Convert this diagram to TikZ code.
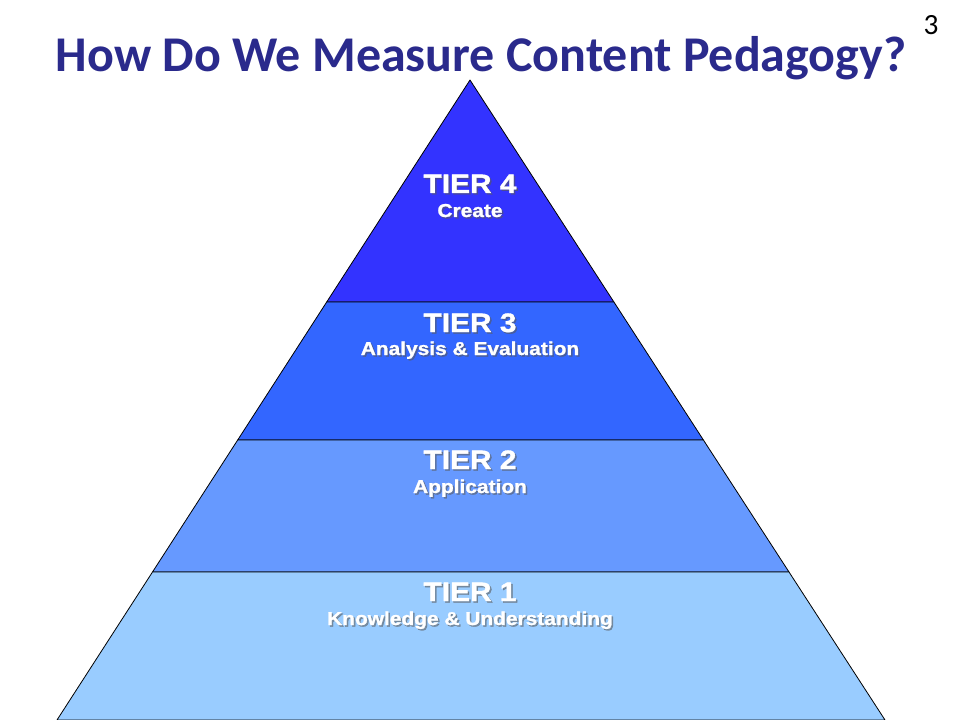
\documentclass[tikz,border=0pt]{standalone}
\usepackage{fontspec}
\usepackage{tikz}
\usetikzlibrary{calc}
\newfontfamily\titlefont{Carlito}
\newfontfamily\tierfont[FakeStretch=1.12,BoldFeatures={FakeBold=1.3}]{Liberation Sans}
\definecolor{titleblue}{RGB}{42,42,140}
\definecolor{tierfour}{RGB}{51,51,255}
\definecolor{tierthree}{RGB}{51,102,255}
\definecolor{tiertwo}{RGB}{102,153,255}
\definecolor{tierone}{RGB}{153,204,255}
\tikzstyle{tier}=[draw=black,line width=0.6pt,line join=round]
\tikzstyle{head}=[anchor=base,inner sep=0pt,text=white,font=\tierfont\bfseries\fontsize{20}{24}\selectfont]
\tikzstyle{sub}=[anchor=base,inner sep=0pt,text=white,font=\tierfont\bfseries\fontsize{14}{17}\selectfont]
\tikzstyle{shade}=[text=black!65,opacity=0.55]

\begin{document}
\begin{tikzpicture}[x=0.75pt,y=-0.75pt]

  \useasboundingbox (0,0) rectangle (960,720);
  \fill[white] (0,0) rectangle (960,720);

  % pyramid corners
  \coordinate (apex) at (470,80);
  \coordinate (L4) at (326.7,302);  \coordinate (R4) at (613.9,302);
  \coordinate (L3) at (237.7,440);  \coordinate (R3) at (703.4,440);
  \coordinate (L2) at (152.5,572);  \coordinate (R2) at (789,572);
  \coordinate (L1) at (57,720);     \coordinate (R1) at (885,720);

  \filldraw[tier, fill=tierfour]  (apex) -- (R4) -- (L4) -- cycle;
  \filldraw[tier, fill=tierthree] (L4) -- (R4) -- (R3) -- (L3) -- cycle;
  \filldraw[tier, fill=tiertwo]   (L3) -- (R3) -- (R2) -- (L2) -- cycle;
  \filldraw[tier, fill=tierone]   (L2) -- (R2) -- (R1) -- (L1) -- cycle;

  % tier labels
  \foreach \hy/\sy/\name/\head/\sub in {193/217/four/TIER 4/Create,
                                         332/355/three/TIER 3/Analysis \& Evaluation,
                                         469/493/two/TIER 2/Application,
                                         601/625/one/TIER 1/Knowledge \& Understanding}
  {
    \node[head,shade] (\name hs) at ($(471.5,\hy)+(0,1.5)$) {\head};
    \node[head] (\name h) at (470,\hy) {\head};
    \node[sub,shade] (\name ss) at ($(471.5,\sy)+(0,1.5)$) {\sub};
    \node[sub] (\name s) at (470,\sy) {\sub};
  }

  % title and page number
  \node[anchor=base,inner sep=0pt,text=titleblue,font=\titlefont\bfseries\fontsize{37.5}{45}\selectfont] (title) at (481,72) {How Do We Measure Content Pedagogy?};
  \node[anchor=base,inner sep=0pt,font=\titlefont\fontsize{22}{26}\selectfont] (page) at (931,35) {3};

\end{tikzpicture}
\end{document}
